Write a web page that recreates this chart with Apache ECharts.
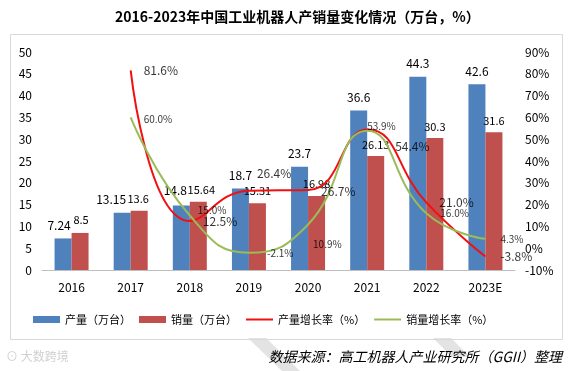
<!DOCTYPE html>
<html>
<head>
<meta charset="utf-8">
<script src="https://cdn.jsdelivr.net/npm/echarts@6/dist/echarts.min.js"></script>
<style>html,body{margin:0;padding:0;background:#fff;}#c{width:568px;height:371px;}</style>
</head>
<body>
<div id="c"></div>
<script>
const categories = ['2016','2017','2018','2019','2020','2021','2022','2023E'];
const production = [7.24, 13.15, 14.8, 18.7, 23.7, 36.6, 44.3, 42.6];
const sales = [8.5, 13.6, 15.64, 15.31, 16.98, 26.13, 30.3, 31.6];
const productionGrowth = [null, 81.6, 12.5, 26.4, 26.7, 54.4, 21.0, -3.8];
const salesGrowth = [null, 60.0, 15.0, -2.1, 10.9, 53.9, 16.0, 4.3];
const leftTicks = {min: 0, max: 50, interval: 5};
const rightTicks = {min: -10, max: 90, interval: 10};

// label offsets (style only)
const prodBarOff = [[-4,0],[-11,0],[-6,-2],[0,0],[0,0],[0,0],[0,0],[0,0]];
const salesBarOff = [[1,-2],[-1,0],[3,0],[0,-1],[0,-1],[0,0],[0,0],[0,0]];
const prodRateOff = [[0,0],[0,0],[0,0],[-5,-17],[0,1],[15,17],[0,0],[2,0]];
const salesRateOff = [[0,0],[0,2],[-5,-5],[5,0],[-8,20],[-13,-4],[1,0],[2,0]];

const FONT = '"Noto Sans CJK SC", sans-serif';
function withOffsets(vals, offs) {
  return vals.map((v, i) => v == null ? null : {value: v, label: {offset: offs[i]}});
}

const chart = echarts.init(document.getElementById('c'), null, {renderer: 'canvas'});
chart.setOption({
  animation: false,
  backgroundColor: '#fff',
  textStyle: {fontFamily: FONT},
  title: {
    text: '2016-2023年中国工业机器人产销量变化情况（万台，%）',
    left: 110, top: 5,
    textStyle: {fontSize: 14, fontWeight: 'bold', color: '#000', fontFamily: FONT}
  },
  graphic: [
    {type: 'rect', left: 8, top: 32, shape: {width: 552, height: 305}, style: {fill: 'none', stroke: '#d9d9d9', lineWidth: 1}, z: -1},
    {type: 'polygon', shape: {points: [[248,338],[266,338],[300,371],[282,371]]}, style: {fill: '#e3e3e3'}, z: -2},
    {type: 'polygon', shape: {points: [[433,338],[451,338],[470,357],[452,357]]}, style: {fill: '#e3e3e3'}, z: -2},
    {type: 'text', right: 6, top: 350, style: {text: '数据来源：高工机器人产业研究所（GGII）整理', font: 'italic 14px "Noto Sans CJK SC"', fill: '#000'}},
    {type: 'text', left: 6, top: 350, style: {text: '⊙ 大数跨境', font: '12px "Noto Sans CJK SC"', fill: '#d0d0d0'}}
  ],
  legend: {
    left: 33, top: 314, padding: 0,
    itemWidth: 27, itemHeight: 7, itemGap: 8,
    textStyle: {fontSize: 11, color: '#000', fontFamily: FONT},
    data: [
      {name: '产量（万台）', icon: 'rect'},
      {name: '销量（万台）', icon: 'rect'},
      {name: '产量增长率（%）', itemStyle: {opacity: 0}},
      {name: '销量增长率（%）', itemStyle: {opacity: 0}}
    ]
  },
  grid: {left: 42, right: 53, top: 52, bottom: 101},
  xAxis: {
    type: 'category', data: categories,
    axisLine: {lineStyle: {color: '#bfbfbf'}},
    axisTick: {show: false},
    axisLabel: {color: '#000', fontSize: 12, margin: 11, fontFamily: FONT}
  },
  yAxis: [
    {type: 'value', min: leftTicks.min, max: leftTicks.max, interval: leftTicks.interval,
     splitLine: {show: false}, axisLine: {show: false}, axisTick: {show: false},
     axisLabel: {color: '#000', fontSize: 12, margin: 10, fontFamily: FONT}},
    {type: 'value', min: rightTicks.min, max: rightTicks.max, interval: rightTicks.interval,
     splitLine: {show: false}, axisLine: {show: false}, axisTick: {show: false},
     axisLabel: {color: '#000', fontSize: 12, margin: 10, formatter: '{value}%', fontFamily: FONT}}
  ],
  series: [
    {name: '产量（万台）', type: 'bar', barWidth: 17, barGap: '0%',
     itemStyle: {color: '#4F81BD'},
     label: {show: true, position: 'top', distance: 7, color: '#000', fontSize: 12, fontFamily: FONT},
     data: withOffsets(production, prodBarOff)},
    {name: '销量（万台）', type: 'bar', barWidth: 17, barGap: '0%',
     itemStyle: {color: '#C0504D'},
     label: {show: true, position: 'top', distance: 6, color: '#000', fontSize: 11, fontFamily: FONT},
     data: withOffsets(sales, salesBarOff)},
    {name: '产量增长率（%）', type: 'line', yAxisIndex: 1, smooth: 0.5, symbol: 'none',
     lineStyle: {color: '#F01010', width: 2}, itemStyle: {color: '#F01010'},
     data: productionGrowth},
    {name: '销量增长率（%）', type: 'line', yAxisIndex: 1, smooth: 0.5, symbol: 'none',
     lineStyle: {color: '#9BBB59', width: 2}, itemStyle: {color: '#9BBB59'},
     data: salesGrowth},
    {name: 'prodRateLabels', type: 'scatter', yAxisIndex: 1, symbolSize: 0, z: 5,
     label: {show: true, position: 'right', distance: 13, color: '#000', fontSize: 12, fontFamily: FONT,
             formatter: p => p.value.toFixed(1) + '%'},
     data: withOffsets(productionGrowth, prodRateOff)},
    {name: 'salesRateLabels', type: 'scatter', yAxisIndex: 1, symbolSize: 0, z: 6,
     label: {show: true, position: 'right', distance: 13, color: '#000', fontSize: 10, fontFamily: FONT,
             formatter: p => p.value.toFixed(1) + '%'},
     data: withOffsets(salesGrowth, salesRateOff)}
  ]
});
</script>
</body>
</html>
